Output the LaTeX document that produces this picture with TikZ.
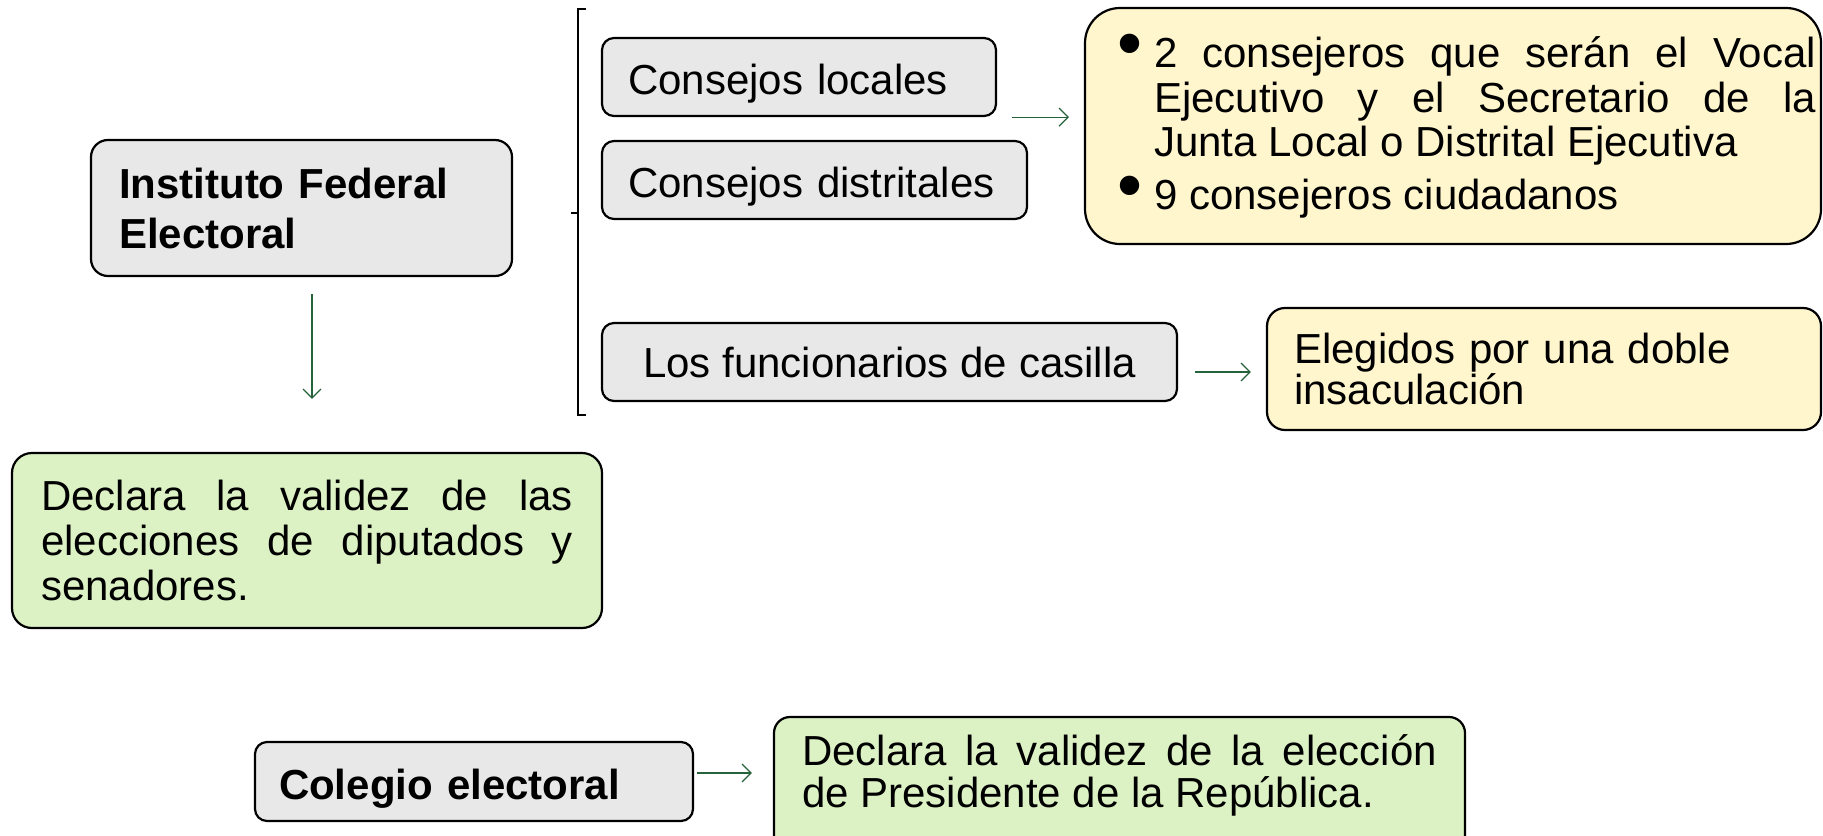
\documentclass[tikz,border=0pt]{standalone}
\usepackage{fontspec}
\setmainfont{Liberation Sans}
\usetikzlibrary{arrows.meta}
\definecolor{grisbox}{RGB}{232,232,232}
\definecolor{amarbox}{RGB}{255,246,206}
\definecolor{verdebox}{RGB}{221,242,196}
\definecolor{flecha}{RGB}{38,98,58}
\hbadness=10000

\begin{document}
\begin{tikzpicture} [x=0.5pt,y=-0.5pt,
  caja/.style= {draw=black,line width=1.1pt,rounded corners=#1,inner ysep=0pt,font=\fontsize{21}{22.5}\selectfont},
  caja/.default=6pt,
  gris/.style= {caja,fill=grisbox,minimum height=39pt,text height=21.5pt,text depth=4pt},
  flechita/.style= {draw=flecha,line width=0.6pt,-{Straight Barb[length=4.5pt,width=9pt]}},
  vineta/.style= {line width=0.6pt}]
\newcommand{\punto}{\llap{\makebox[18.5pt][l]{\raisebox{0pt}{\scalebox{1.7}{•}}}}}
\useasboundingbox (0,0) rectangle (1823,835);

\node[caja=8.5pt,fill=grisbox,minimum width=210.5pt,minimum height=68pt,text width=182.5pt,inner xsep=14pt,align=left,font=\bfseries\fontsize{21}{25}\selectfont] (ife) at (301.5,208) {Instituto Federal\\Electoral};
\node[caja=10pt,fill=verdebox,minimum height=87.5pt,text width=266pt,inner xsep=14.5pt,align=justify,font=\fontsize{21}{22.7}\selectfont] (val1) at (307,540.5) {Declara la validez de las\linebreak elecciones de diputados y\linebreak senadores.};

\node[gris,text width=171pt,inner xsep=13pt,align=left] (loc) at (799,77) {Consejos locales};
\node[gris,text width=186.5pt,inner xsep=13pt,align=left] (dis) at (814.5,180) {Consejos distritales};
\node[caja,fill=grisbox,minimum width=287.5pt,minimum height=39pt,align=center] (fun) at (889.5,362) {Los funcionarios de casilla};

\node[caja=17.5pt,fill=amarbox,minimum height=118pt,text width=363pt,inner xsep=2.5pt,align=justify,font=\fontsize{21}{22.3}\selectfont] (jun) at (1453,126) {\leftskip=32pt
  \noindent\punto 2 consejeros que serán el Vocal\linebreak Ejecutivo y el Secretario de la\linebreak Junta Local o Distrital Ejecutiva\par
  \vspace{4pt}\noindent\punto 9 consejeros ciudadanos\par};
\node[caja=9pt,fill=amarbox,minimum width=277pt,minimum height=61pt,text width=250pt,inner xsep=13.5pt,align=left,font=\fontsize{21}{20.3}\selectfont] (elg) at (1544,369) {Elegidos por una doble\\insaculación};

\node[gris,minimum width=219pt,minimum height=39.5pt,text width=195pt,inner xsep=12pt,align=left,font=\bfseries\fontsize{21}{22.5}\selectfont] (col) at (474,781.5) {Colegio electoral};
\node[caja=8pt,fill=verdebox,minimum height=75pt,text width=317.5pt,inner xsep=14pt,align=justify,font=\fontsize{21}{21}\selectfont] (val2) at (1119.5,792) {Declara la validez de la elección\linebreak de Presidente de la República.\rule[-21.4pt]{0pt}{1pt}};

\draw[vineta] (586,9) -- (578,9) -- (578,415) -- (586,415);
\draw[vineta] (578,213) -- (571,213);

\draw[flechita] ([xshift=5.25pt,yshift=-8.5pt]ife.south) -- ([xshift=5.25pt,yshift=26.5pt]ife.south |- val1.north);
\draw[flechita] ([xshift=7.5pt]loc.south east) -- ([xshift=-7.5pt]loc.south east -| jun.west);
\draw[flechita] ([xshift=8.5pt,yshift=-5pt]fun.east) -- ([xshift=-7.5pt,yshift=-5pt]fun.east -| elg.west);
\draw[flechita] ([xshift=1.5pt,yshift=4.25pt]col.east) -- ([xshift=-10.5pt,yshift=4.25pt]col.east -| val2.west);
\end{tikzpicture}
\end{document}
